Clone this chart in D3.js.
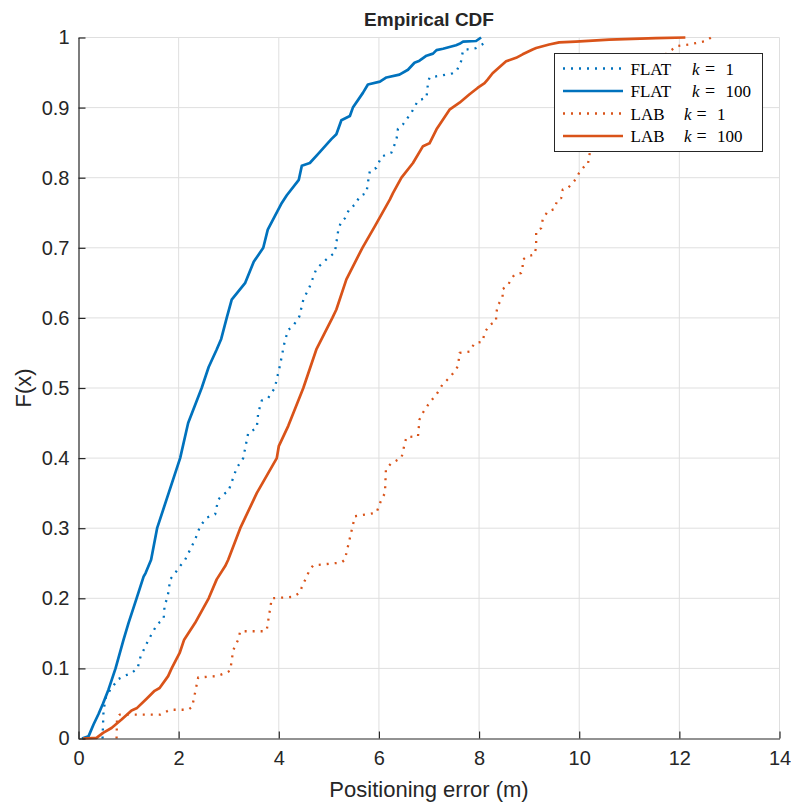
<!DOCTYPE html>
<html>
<head>
<meta charset="utf-8">
<script src="https://cdn.jsdelivr.net/npm/d3@7"></script>
<style>
  body { margin: 0; background: #fff; }
  text { font-family: "Liberation Sans", Arial, Helvetica, sans-serif; fill: #262626; }
</style>
</head>
<body>
<div id="chart"></div>
<script>
// ECDF curves: [error (m), F(x)]
const flatK1 = [[0.48,0],[0.5,0.04],[0.55,0.06],[0.64,0.07],[0.8,0.085],[0.94,0.09],[1.05,0.093],[1.18,0.1],[1.24,0.117],[1.4,0.141],[1.57,0.163],[1.7,0.17],[1.72,0.19],[1.77,0.2],[1.8,0.21],[1.83,0.227],[1.93,0.236],[2.03,0.246],[2.13,0.255],[2.33,0.284],[2.43,0.303],[2.56,0.315],[2.73,0.32],[2.79,0.341],[2.93,0.35],[2.99,0.352],[3.16,0.386],[3.29,0.4],[3.39,0.436],[3.56,0.443],[3.59,0.465],[3.66,0.482],[3.79,0.486],[3.92,0.5],[4.02,0.531],[4.12,0.567],[4.19,0.583],[4.28,0.588],[4.41,0.602],[4.49,0.626],[4.62,0.645],[4.75,0.67],[4.99,0.686],[5.12,0.693],[5.19,0.726],[5.25,0.738],[5.32,0.742],[5.42,0.757],[5.52,0.761],[5.62,0.774],[5.75,0.778],[5.78,0.793],[5.82,0.81],[5.95,0.814],[6.05,0.83],[6.25,0.836],[6.35,0.854],[6.38,0.87],[6.48,0.876],[6.65,0.893],[6.78,0.91],[6.95,0.914],[6.98,0.935],[7.01,0.943],[7.27,0.946],[7.47,0.949],[7.55,0.952],[7.64,0.966],[7.68,0.982],[7.94,0.985],[8.11,0.992],[8.15,0.997]];

const flatK100 = [[0.07,0],[0.2,0.003],[0.3,0.02],[0.4,0.035],[0.49,0.05],[0.6,0.07],[0.74,0.1],[0.9,0.141],[1.0,0.165],[1.16,0.2],[1.3,0.231],[1.34,0.236],[1.45,0.255],[1.57,0.3],[1.8,0.35],[2.03,0.4],[2.19,0.45],[2.46,0.5],[2.6,0.53],[2.76,0.555],[2.85,0.57],[2.96,0.6],[3.06,0.626],[3.33,0.65],[3.5,0.68],[3.69,0.7],[3.78,0.726],[4.06,0.764],[4.16,0.775],[4.4,0.797],[4.46,0.817],[4.62,0.821],[4.8,0.835],[5.05,0.855],[5.15,0.862],[5.25,0.882],[5.42,0.888],[5.48,0.9],[5.68,0.921],[5.78,0.933],[6.02,0.937],[6.15,0.943],[6.41,0.947],[6.58,0.954],[6.71,0.964],[6.81,0.967],[6.95,0.974],[7.08,0.977],[7.15,0.982],[7.28,0.984],[7.54,0.989],[7.61,0.991],[7.68,0.994],[7.94,0.995],[8.04,1.0]];

const labK1 = [[0.76,0],[0.77,0.03],[0.82,0.034],[1.63,0.034],[1.83,0.041],[2.19,0.041],[2.27,0.045],[2.39,0.087],[2.76,0.089],[2.96,0.094],[3.03,0.097],[3.09,0.126],[3.19,0.141],[3.23,0.153],[3.73,0.153],[3.76,0.155],[3.86,0.2],[4.28,0.202],[4.42,0.208],[4.46,0.216],[4.62,0.241],[4.69,0.247],[5.25,0.251],[5.32,0.255],[5.52,0.317],[5.95,0.322],[6.05,0.341],[6.12,0.35],[6.14,0.384],[6.25,0.393],[6.45,0.4],[6.51,0.419],[6.55,0.43],[6.78,0.431],[6.81,0.455],[6.88,0.465],[7.01,0.479],[7.15,0.491],[7.27,0.505],[7.44,0.517],[7.58,0.531],[7.61,0.55],[7.81,0.552],[7.91,0.564],[8.07,0.566],[8.11,0.579],[8.21,0.59],[8.34,0.595],[8.34,0.605],[8.37,0.617],[8.47,0.63],[8.47,0.641],[8.57,0.646],[8.64,0.655],[8.71,0.662],[8.84,0.664],[8.87,0.671],[8.87,0.683],[8.97,0.688],[9.1,0.69],[9.14,0.7],[9.14,0.723],[9.24,0.728],[9.27,0.74],[9.37,0.752],[9.5,0.755],[9.57,0.769],[9.64,0.771],[9.67,0.783],[9.77,0.785],[9.9,0.795],[10.0,0.807],[10.1,0.816],[10.17,0.818],[10.2,0.83],[10.22,0.84],[10.5,0.88],[11.0,0.93],[11.5,0.965],[11.86,0.983],[11.96,0.988],[12.19,0.99],[12.33,0.992],[12.53,0.995],[12.63,1.0]];

const labK100 = [[0.09,0],[0.36,0.001],[0.49,0.008],[0.66,0.015],[0.86,0.027],[1.06,0.04],[1.16,0.043],[1.35,0.056],[1.52,0.068],[1.62,0.072],[1.79,0.089],[1.86,0.1],[2.02,0.122],[2.11,0.141],[2.33,0.165],[2.6,0.2],[2.76,0.227],[2.93,0.246],[2.99,0.255],[3.23,0.3],[3.56,0.35],[3.96,0.4],[4.0,0.417],[4.19,0.446],[4.49,0.5],[4.75,0.555],[4.92,0.579],[5.07,0.6],[5.15,0.612],[5.35,0.655],[5.67,0.7],[5.92,0.731],[6.22,0.769],[6.28,0.778],[6.45,0.8],[6.68,0.821],[6.88,0.845],[7.01,0.849],[7.15,0.869],[7.41,0.897],[7.61,0.907],[7.81,0.919],[7.97,0.928],[8.11,0.935],[8.17,0.94],[8.27,0.949],[8.41,0.958],[8.54,0.966],[8.74,0.971],[8.87,0.976],[9.07,0.983],[9.14,0.985],[9.4,0.99],[9.6,0.993],[9.93,0.994],[10.6,0.997],[11.53,0.999],[12.12,1.0]];

const xTicks = [0, 2, 4, 6, 8, 10, 12, 14];
const yTicks = [0, 0.1, 0.2, 0.3, 0.4, 0.5, 0.6, 0.7, 0.8, 0.9, 1];

const seriesNames = ["FLAT", "FLAT", "LAB", "LAB"];
const seriesK = ["1", "100", "1", "100"];
const seriesData = [flatK1, flatK100, labK1, labK100];

const blue = "#0072BD", orange = "#D95319";
const seriesStyle = [
  { color: blue, dash: "2,6", w: 2.3 },
  { color: blue, dash: null, w: 2.7 },
  { color: orange, dash: "2,6", w: 2.3 },
  { color: orange, dash: null, w: 2.7 }
];

const W = 791, H = 806;
const margin = { top: 37.5, right: 11.5, bottom: 67.5, left: 78.5 };
const width = W - margin.left - margin.right;
const height = H - margin.top - margin.bottom;

const svg = d3.select("#chart").append("svg")
  .attr("width", W).attr("height", H);

const g = svg.append("g")
  .attr("transform", `translate(${margin.left},${margin.top})`);

const x = d3.scaleLinear().domain([0, 14]).range([0, width]);
const y = d3.scaleLinear().domain([0, 1]).range([height, 0]);

// grid
g.append("g").selectAll("line").data(xTicks.slice(1)).enter().append("line")
  .attr("x1", d => x(d)).attr("x2", d => x(d))
  .attr("y1", 0).attr("y2", height)
  .attr("stroke", "#dfdfdf").attr("stroke-width", 1);
g.append("g").selectAll("line").data(yTicks.slice(1)).enter().append("line")
  .attr("x1", 0).attr("x2", width)
  .attr("y1", d => y(d)).attr("y2", d => y(d))
  .attr("stroke", "#dfdfdf").attr("stroke-width", 1);

// curves
const line = d3.line().x(d => x(d[0])).y(d => y(d[1]));
seriesData.forEach((data, i) => {
  g.append("path")
    .datum(data)
    .attr("fill", "none")
    .attr("stroke", seriesStyle[i].color)
    .attr("stroke-width", seriesStyle[i].w)
    .attr("stroke-linejoin", "round")
    .attr("stroke-dasharray", seriesStyle[i].dash)
    .attr("d", line);
});

// axes (MATLAB look: inward ticks, no box)
const xAxis = g.append("g")
  .attr("transform", `translate(0,${height})`)
  .call(d3.axisBottom(x).tickValues(xTicks).tickSizeInner(-7).tickSizeOuter(0).tickPadding(12));
const yAxis = g.append("g")
  .call(d3.axisLeft(y).tickValues(yTicks).tickFormat(d3.format("~g")).tickSizeInner(-7).tickSizeOuter(0).tickPadding(9));

[xAxis, yAxis].forEach(a => {
  a.select(".domain").attr("stroke", "#262626").attr("stroke-width", 1.2);
  a.selectAll(".tick line").attr("stroke", "#262626").attr("stroke-width", 1.2);
  a.selectAll(".tick text").attr("font-size", 20).attr("fill", "#262626")
    .style("font-family", '"Liberation Sans", Arial, sans-serif');
});
xAxis.selectAll(".tick text").attr("dy", "0.71em");

// labels
svg.append("text")
  .attr("x", margin.left + width / 2).attr("y", 26)
  .attr("text-anchor", "middle")
  .attr("font-size", 19).attr("font-weight", "bold")
  .attr("fill", "#000")
  .text("Empirical CDF");

svg.append("text")
  .attr("x", margin.left + width / 2).attr("y", 797)
  .attr("text-anchor", "middle")
  .attr("font-size", 22)
  .text("Positioning error (m)");

svg.append("text")
  .attr("transform", `translate(31,${margin.top + height / 2}) rotate(-90)`)
  .attr("text-anchor", "middle")
  .attr("font-size", 22)
  .text("F(x)");

// legend
const leg = svg.append("g");
leg.append("rect")
  .attr("x", 554.5).attr("y", 53.5).attr("width", 208).attr("height", 98)
  .attr("fill", "#fff").attr("stroke", "#262626").attr("stroke-width", 1);

const rowY = [68.5, 91, 113.5, 136];
const kX = [692, 692, 684, 684];
const eqX = [710, 710, 701.5, 701.5];
const numX = [725.5, 725.5, 717, 717];
seriesNames.forEach((name, i) => {
  const ry = rowY[i];
  leg.append("line")
    .attr("x1", 563).attr("x2", 623).attr("y1", ry).attr("y2", ry)
    .attr("stroke", seriesStyle[i].color).attr("stroke-width", seriesStyle[i].w)
    .attr("stroke-dasharray", seriesStyle[i].dash);
  const tf = 'font-family:"Liberation Serif","Times New Roman",serif;fill:#000';
  leg.append("text").attr("x", 630.5).attr("y", ry + 6)
    .attr("font-size", 17).attr("style", tf).text(name);
  leg.append("text").attr("x", kX[i]).attr("y", ry + 6)
    .attr("font-size", 17).attr("font-style", "italic").attr("style", tf).text("k");
  leg.append("text").attr("x", eqX[i]).attr("y", ry + 6)
    .attr("text-anchor", "middle")
    .attr("font-size", 18).attr("style", tf).text("=");
  leg.append("text").attr("x", numX[i]).attr("y", ry + 6)
    .attr("font-size", 17).attr("style", tf).text(seriesK[i]);
});
</script>
</body>
</html>
